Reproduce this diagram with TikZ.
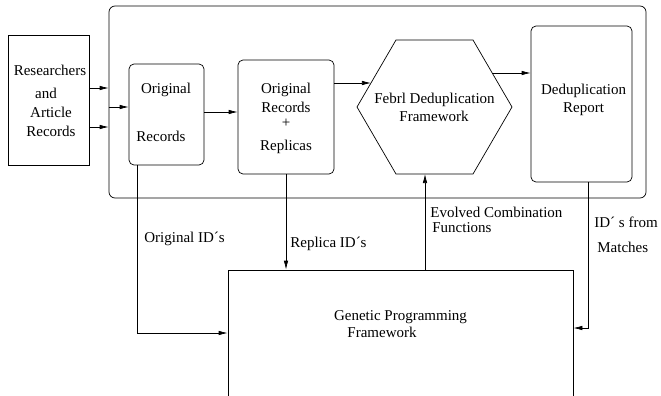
\documentclass[tikz,border=0pt]{standalone}
\usepackage{fontspec}
\setmainfont{Liberation Serif}
\usetikzlibrary{arrows.meta,calc}
\begin{document}
\begin{tikzpicture}[x=1pt,y=-1pt,
  font=\fontsize{15}{17}\selectfont,
  line width=0.7pt,
  arr/.style={-{Latex[length=9pt,width=4.5pt]}},
  plainbox/.style={draw, inner sep=0pt},
  rbox/.style={draw, rounded corners=5pt, inner sep=0pt},
  txt/.style={inner sep=0pt, anchor=base},
  lbl/.style={inner sep=0pt, anchor=base west}]
\useasboundingbox (0,0) rectangle (661,396);

% boxes
\node[plainbox, minimum width=81pt, minimum height=130pt] (res) at (48.5,100) {};
\node[draw, rounded corners=6pt, minimum width=537pt, minimum height=192pt] (frame) at (377.5,102) {};
\node[rbox, minimum width=75pt, minimum height=101pt] (orig) at (166.5,114.5) {};
\node[rbox, minimum width=96pt, minimum height=114pt] (rep) at (286,117) {};
\node[rbox, minimum width=101pt, minimum height=156pt] (dedup) at (581.5,104) {};
\node[plainbox, minimum width=345pt, minimum height=130pt] (gp) at (400.5,335) {};

% hexagon
\coordinate (h1) at (396,40);
\coordinate (h2) at (473,40);
\coordinate (h3) at (512,107);
\coordinate (h4) at (473,174);
\coordinate (h5) at (396,174);
\coordinate (h6) at (357,107);
\draw (h1) -- (h2) -- (h3) -- (h4) -- (h5) -- (h6) -- cycle;
\coordinate (hin) at ($(h1)!0.6418!(h6)$);
\coordinate (hout) at ($(h2)!0.4925!(h3)$);
\coordinate (hbot) at (425,174);

% texts
\node[txt] (t1) at (50,75) {Researchers};
\node[txt] (t2) at (46,98) {and};
\node[txt] (t3) at (51,117) {Article};
\node[txt] (t4) at (51,136) {Records};
\node[txt] (t5) at (166,93) {Original};
\node[txt] (t6) at (161,141) {Records};
\node[txt] (t7) at (286,93) {Original};
\node[txt] (t8) at (286,112) {Records};
\node[txt] (t9) at (286,127) {+};
\node[txt] (t10) at (286,150) {Replicas};
\node[txt] (t11) at (434.5,103) {Febrl Deduplication};
\node[txt] (t12) at (434,121) {Framework};
\node[txt] (t13) at (583.5,95) {Deduplication};
\node[txt] (t14) at (583.5,112) {Report};
\node[txt] (t15) at (400.5,320) {Genetic Programming};
\node[txt] (t16) at (382,337) {Framework};

% labels
\node[lbl] (l1) at (144,242) {Original ID´s};
\node[lbl] (l2) at (290,247) {Replica ID´s};
\node[lbl] (l3) at (430,217) {Evolved Combination};
\node[lbl] (l4) at (432,232) {Functions};
\node[lbl] (l5) at (594,227) {ID´ s from};
\node[lbl] (l6) at (597,252) {Matches};

% connectors
\draw[arr] (res.east |- 0,88) -- (frame.west |- 0,88);
\draw[arr] (res.east |- 0,127) -- (frame.west |- 0,127);
\draw[arr] (frame.west |- 0,107) -- (orig.west |- 0,107);
\draw[arr] (orig.east |- 0,112) -- (rep.west |- 0,112);
\draw[arr] (rep.east |- hin) -- (hin);
\draw[arr] (hout) -- (dedup.west |- hout);
\draw[arr] (orig.south -| 137,0) -- (137,333) -- (gp.west |- 0,333);
\draw[arr] (rep.south) -- (gp.north -| rep.south);
\draw[arr] (gp.north -| hbot) -- (hbot);
\draw[arr] (dedup.south -| 588,0) -- (588,328) -- (gp.east |- 0,328);
\end{tikzpicture}
\end{document}
